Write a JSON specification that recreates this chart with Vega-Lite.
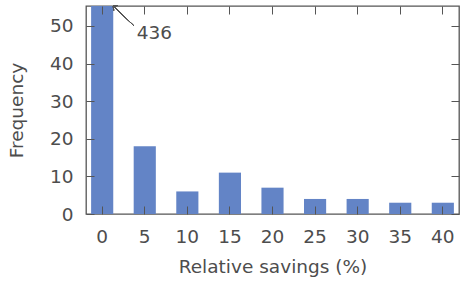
{
  "$schema": "https://vega.github.io/schema/vega-lite/v6.json",
  "width": 373,
  "height": 208,
  "autosize": {"type": "none"},
  "padding": {"left": 86, "top": 6, "right": 1, "bottom": 70},
  "config": {
    "font": "DejaVu Sans",
    "view": {"stroke": "#555555", "strokeWidth": 1.3},
    "axis": {
      "domain": false,
      "grid": false,
      "tickColor": "#555555",
      "tickWidth": 1,
      "tickSize": 8,
      "offset": -8,
      "labelColor": "#4d4d4d",
      "labelFontSize": 18.5,
      "titleColor": "#4d4d4d",
      "titleFontSize": 18.5,
      "titleFontWeight": "normal"
    }
  },
  "data": {
    "values": [
      {"saving": "0", "count": 436},
      {"saving": "5", "count": 18},
      {"saving": "10", "count": 6},
      {"saving": "15", "count": 11},
      {"saving": "20", "count": 7},
      {"saving": "25", "count": 4},
      {"saving": "30", "count": 4},
      {"saving": "35", "count": 3},
      {"saving": "40", "count": 3}
    ]
  },
  "layer": [
    {
      "mark": {"type": "bar", "color": "#6384c6", "clip": true},
      "encoding": {
        "x": {
          "field": "saving", "type": "ordinal", "sort": null,
          "scale": {"paddingInner": 0.48, "paddingOuter": 0.12},
          "axis": {"orient": "bottom", "zindex": 1, "labelAngle": 0, "labelPadding": 13, "title": "Relative savings (%)", "titlePadding": 12}
        },
        "y": {
          "field": "count", "type": "quantitative",
          "scale": {"domain": [0, 55.3], "nice": false},
          "axis": {"orient": "left", "zindex": 1, "values": [0, 10, 20, 30, 40, 50], "labelPadding": 13, "title": "Frequency", "titlePadding": 23}
        }
      }
    },
    {
      "mark": {"type": "bar", "opacity": 0},
      "encoding": {
        "x": {
          "field": "saving", "type": "ordinal", "sort": null,
          "axis": {"orient": "top", "zindex": 1, "labels": false, "title": null}
        },
        "y": {
          "field": "count", "type": "quantitative",
          "axis": {"orient": "right", "zindex": 1, "values": [0, 10, 20, 30, 40, 50], "labels": false, "title": null}
        }
      }
    },
    {
      "mark": {"type": "rule", "color": "#555555", "strokeWidth": 0.9},
      "encoding": {
        "x": {"datum": "0", "bandPosition": 1, "axis": null},
        "y": {"datum": 55.3, "axis": null},
        "x2": {"datum": "5", "bandPosition": 0},
        "y2": {"datum": 50.1}
      }
    },
    {
      "mark": {"type": "point", "shape": "M-1,-1L0,0L-1,1", "filled": false, "stroke": "#555555", "strokeWidth": 0.9, "size": 40, "angle": 219},
      "encoding": {
        "x": {"datum": "0", "bandPosition": 1, "axis": null},
        "y": {"datum": 55.3, "axis": null}
      }
    },
    {
      "transform": [{"filter": "datum.saving === '0'"}],
      "mark": {"type": "text", "align": "left", "baseline": "middle", "fontSize": 18.5, "color": "#4d4d4d", "dx": 3},
      "encoding": {
        "x": {"datum": "5", "bandPosition": 0, "axis": null},
        "y": {"datum": 48.1, "axis": null},
        "text": {"field": "count"}
      }
    }
  ],
  "resolve": {"axis": {"x": "independent", "y": "independent"}}
}
